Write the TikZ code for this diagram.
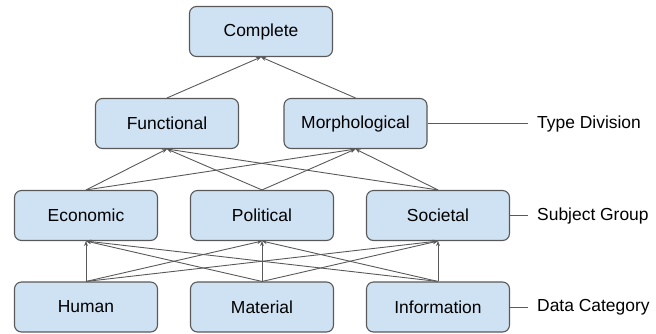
\documentclass[tikz,border=0pt]{standalone}
\usepackage{fontspec}
\setmainfont{Liberation Sans}
\usetikzlibrary{positioning,arrows.meta}
\definecolor{boxblue}{HTML}{CFE2F3}
\definecolor{edgegray}{HTML}{595959}

\begin{document}
\begin{tikzpicture}[x=1bp, y=1bp, node distance={176bp},
    main/.style = {draw=edgegray, line width=1.1bp, fill=boxblue, rounded corners=7bp, minimum width=143bp, minimum height=50bp, font=\fontsize{17.5}{20}\selectfont},
    tag/.style = {anchor=west, inner xsep=9bp, font=\fontsize{17.5}{20}\selectfont},
    link/.style = {draw=edgegray, line width=0.9bp, -{Stealth[length=5bp,width=4bp]}}]
        \useasboundingbox (0,0) rectangle (656,-333);

        \node[main] (1) at (261,-31.5) {Complete};
        \node[main] (2) at (167,-123.5) {Functional};
        \node[main] (3) at (355.5,-123.5) {Morphological};
        \node[main] (5) at (262,-215.5) {Political};
        \node[main] (4) [left of=5] {Economic};
        \node[main] (6) [right of=5] {Societal};
        \node[main] (8) at (262,-307) {Material};
        \node[main] (7) [left of=8] {Human};
        \node[main] (9) [right of=8] {Information};

        \node[tag] (10) at (528,-123.5) {Type Division};
        \node[tag] (11) at (528,-215.5) {Subject Group};
        \node[tag] (12) at (528,-307) {Data Category};

        \draw[link] (2.north) -- (1.south);
        \draw[link] (3.north) -- (1.south);

        \draw[link] (4.north) -- (2.south);
        \draw[link] (5.north) -- (2.south);
        \draw[link] (6.north) -- (2.south);
        \draw[link] (4.north) -- (3.south);
        \draw[link] (5.north) -- (3.south);
        \draw[link] (6.north) -- (3.south);

        \draw[link] (7.north) -- (4.south);
        \draw[link] (8.north) -- (4.south);
        \draw[link] (9.north) -- (4.south);
        \draw[link] (7.north) -- (5.south);
        \draw[link] (8.north) -- (5.south);
        \draw[link] (9.north) -- (5.south);
        \draw[link] (7.north) -- (6.south);
        \draw[link] (8.north) -- (6.south);
        \draw[link] (9.north) -- (6.south);

        \draw[edgegray, line width=0.9bp] (3) -- (10);
        \draw[edgegray, line width=0.9bp] (6) -- (11);
        \draw[edgegray, line width=0.9bp] (9) -- (12);
    \end{tikzpicture}
\end{document}
